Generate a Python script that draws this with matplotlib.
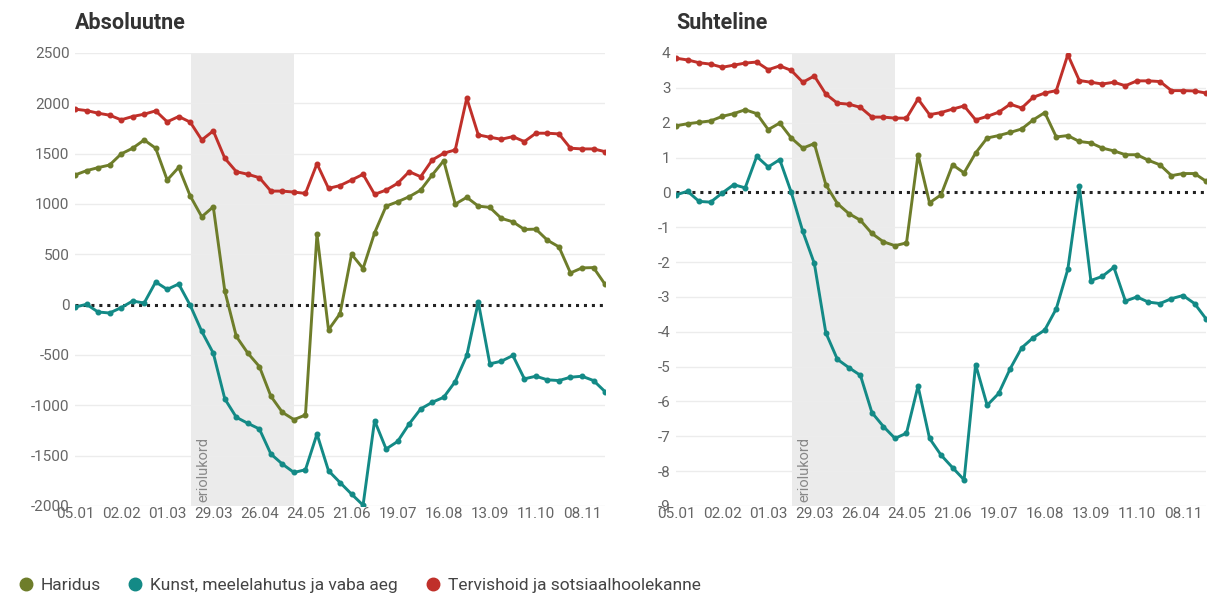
import matplotlib
matplotlib.use("Agg")
import matplotlib.pyplot as plt
from matplotlib.lines import Line2D
import numpy as np

plt.rcParams['font.family'] = ['Roboto', 'DejaVu Sans']

# ---- data ----
tick_labels = ['05.01', '02.02', '01.03', '29.03', '26.04', '24.05',
               '21.06', '19.07', '16.08', '13.09', '11.10', '08.11']
n_weeks = 47

abs_haridus = [1288, 1331, 1361, 1387, 1497, 1554, 1636, 1554, 1238, 1364,
               1079, 873, 972, 135, -316, -482, -615, -910, -1070, -1142,
               -1096, 700, -250, -90, 501, 359, 713, 979, 1022, 1072,
               1138, 1288, 1430, 999, 1066, 979, 966, 857, 823, 747,
               750, 640, 574, 315, 365, 368, 202]
abs_kunst = [-24, 3, -73, -83, -30, 36, 16, 225, 152, 205,
             -7, -266, -482, -936, -1119, -1179, -1235, -1484, -1584, -1667,
             -1640, -1285, -1650, -1767, -1882, -1992, -1152, -1434, -1359, -1185,
             -1036, -970, -920, -764, -505, 26, -588, -562, -505, -737,
             -711, -747, -754, -721, -711, -754, -864]
abs_tervis = [1942, 1928, 1902, 1882, 1836, 1869, 1892, 1925, 1816, 1869,
              1813, 1636, 1726, 1454, 1321, 1295, 1261, 1128, 1128, 1118,
              1105, 1400, 1155, 1183, 1238, 1295, 1096, 1138, 1205, 1321,
              1271, 1437, 1504, 1537, 2052, 1686, 1663, 1643, 1669, 1620,
              1703, 1703, 1696, 1554, 1547, 1547, 1520]

rel_haridus = [1.91, 1.97, 2.01, 2.05, 2.18, 2.26, 2.37, 2.26, 1.80, 1.99,
               1.56, 1.27, 1.40, 0.22, -0.32, -0.61, -0.80, -1.18, -1.42, -1.53,
               -1.45, 1.08, -0.30, -0.07, 0.79, 0.56, 1.13, 1.56, 1.63, 1.72,
               1.82, 2.08, 2.29, 1.59, 1.63, 1.46, 1.42, 1.27, 1.19, 1.08,
               1.08, 0.92, 0.79, 0.48, 0.54, 0.54, 0.32]
rel_kunst = [-0.07, 0.03, -0.26, -0.28, -0.02, 0.22, 0.13, 1.03, 0.73, 0.94,
             0.0, -1.12, -2.04, -4.03, -4.79, -5.03, -5.25, -6.32, -6.72, -7.06,
             -6.91, -5.56, -7.06, -7.54, -7.90, -8.25, -4.94, -6.11, -5.77, -5.06,
             -4.46, -4.17, -3.95, -3.34, -2.21, 0.17, -2.53, -2.41, -2.15, -3.12,
             -3.00, -3.15, -3.19, -3.05, -2.96, -3.19, -3.63]
rel_tervis = [3.85, 3.80, 3.72, 3.68, 3.59, 3.65, 3.71, 3.74, 3.52, 3.63,
              3.50, 3.16, 3.34, 2.82, 2.56, 2.53, 2.44, 2.16, 2.16, 2.13,
              2.13, 2.68, 2.23, 2.29, 2.39, 2.48, 2.08, 2.18, 2.30, 2.53,
              2.42, 2.73, 2.85, 2.92, 3.95, 3.21, 3.16, 3.11, 3.16, 3.06,
              3.20, 3.20, 3.18, 2.92, 2.92, 2.91, 2.85]

series_names = ['Haridus', 'Kunst, meelelahutus ja vaba aeg',
                'Tervishoid ja sotsiaalhoolekanne']
colors = ['#6e7d2a', '#138a86', '#c0302a']

lockdown_start = 10.1
lockdown_end = 19.0
lockdown_label = 'eriolukord'

# ---- figure ----
fig = plt.figure(figsize=(12.12, 6.0), dpi=100)
ax1 = fig.add_axes([0.0619, 0.1567, 0.4373, 0.755])
ax2 = fig.add_axes([0.5578, 0.1567, 0.4373, 0.755])

x = np.arange(n_weeks)
tick_pos = np.arange(0, n_weeks, 4)[:len(tick_labels)]


def style(ax, data, ylim, yticks, title, label_y):
    ax.axvspan(lockdown_start, lockdown_end, color='#ebebeb', zorder=0, lw=0)
    for yt in yticks:
        if yt != 0:
            ax.axhline(yt, color='#ececec', lw=1.0, zorder=1)
    ax.axhline(0, color='#222222', lw=2.2, ls=(0, (1, 1.6)), zorder=2)
    for vals, c in zip(data, colors):
        ax.plot(x, vals, color=c, lw=2.1, marker='o', ms=3.3, zorder=3)
    ax.set_xlim(0, n_weeks - 1)
    ax.set_ylim(*ylim)
    ax.set_yticks(yticks)
    ax.set_yticklabels([str(v) for v in yticks])
    ax.set_xticks(tick_pos)
    ax.set_xticklabels(tick_labels)
    ax.tick_params(axis='both', length=0, labelsize=11, labelcolor='#666666')
    ax.tick_params(axis='y', pad=4)
    ax.tick_params(axis='x', pad=1)
    for s in ax.spines.values():
        s.set_visible(False)
    ax.set_title(title, loc='left', fontsize=15.5, fontweight='bold',
                 color='#333333', pad=17)
    ax.text(lockdown_start + 1.0, label_y, lockdown_label, rotation=90,
            ha='center', va='bottom', fontsize=10.5, color='#888888', zorder=2)


style(ax1, [abs_haridus, abs_kunst, abs_tervis], (-2000, 2500),
      list(range(-2000, 2501, 500)), 'Absoluutne', -1960)
style(ax2, [rel_haridus, rel_kunst, rel_tervis], (-9, 4),
      list(range(-9, 5)), 'Suhteline', -8.88)

handles = [Line2D([], [], ls='none', marker='o', ms=9, color=c) for c in colors]
fig.legend(handles, series_names, loc='center left',
           bbox_to_anchor=(0.001, 0.024), ncol=3, frameon=False,
           fontsize=12.5, labelcolor='#444444', handletextpad=0.36,
           columnspacing=1.5, handlelength=1.0)

fig.savefig('out.png', dpi=100, facecolor='white')
